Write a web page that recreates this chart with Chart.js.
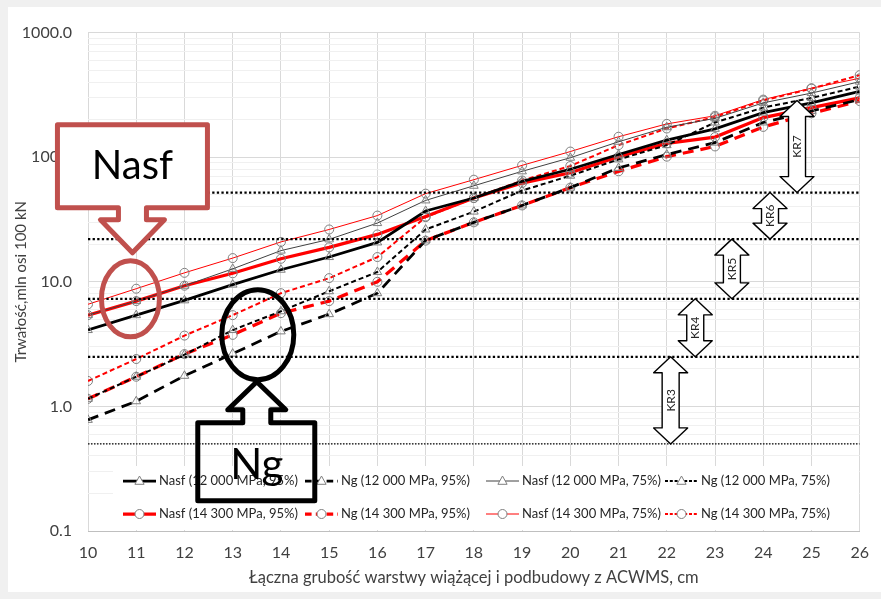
<!DOCTYPE html>
<html>
<head>
<meta charset="utf-8">
<script src="https://cdn.jsdelivr.net/npm/chart.js@4.4.1/dist/chart.umd.min.js"></script>
<style>
    html, body { margin: 0; padding: 0; background: #f0f0f0; }
    #wrap { position: absolute; left: 8px; top: 7px; width: 873px; height: 585px; background: #fff; }
</style>
</head>
<body>
<div id="wrap"><canvas id="graficoTrwalosc" width="873" height="585"></canvas></div>
<script>
// grubość warstwy wiążącej + podbudowy, cm
const grubosc = [10, 11, 12, 13, 14, 15, 16, 17, 18, 19, 20, 21, 22, 23, 24, 25, 26];

// trwałość, mln osi 100 kN
const nasf12_95 = [4.1, 5.4, 7.1, 9.5, 12.5, 15.8, 20.7, 37, 47, 64, 80, 105, 137, 169, 228, 273, 337];
const ng12_95   = [0.78, 1.1, 1.76, 2.65, 4.0, 5.5, 8.1, 21.5, 30, 41, 57, 82, 105, 131, 190, 235, 290];
const nasf12_75 = [5.4, 7.0, 9.3, 12.7, 17.8, 21.9, 29.6, 45, 59, 77, 99, 133, 174, 205, 273, 327, 404];
const ng12_75   = [1.15, 1.73, 2.6, 4.1, 5.8, 8.4, 12.0, 26.3, 36.6, 54, 71, 96, 125, 190, 250, 299, 369];
const nasf14_95 = [5.4, 7.0, 9.3, 11.7, 15.3, 18.9, 24, 33.4, 47, 62, 75, 101, 129, 145, 208, 250, 299];
const ng14_95   = [1.15, 1.73, 2.63, 3.75, 5.6, 7.0, 10.0, 21.4, 30, 41, 57, 77, 101, 122, 175, 225, 282];
const nasf14_75 = [6.6, 8.8, 11.8, 15.5, 20.9, 26.3, 34, 51, 66, 86, 111, 146, 185, 215, 290, 358, 430];
const ng14_75   = [1.6, 2.4, 3.7, 5.4, 8.1, 10.7, 15.8, 33, 47, 65, 85, 125, 170, 210, 285, 355, 456];

// granice kategorii ruchu KR
const progiKR = [0.5, 2.5, 7.3, 22, 52];
const etykietyKR = ["KR3", "KR4", "KR5", "KR6", "KR7"];
const krOd = [0.5, 2.5, 7.3, 22, 52];
const krDo = [2.5, 7.3, 22, 52, 285];
const krPozycja = [22.08, 22.59, 23.35, 24.14, 24.7];

const czcionka = "Lato, 'Open Sans', sans-serif";
const czerwony = "#ff0000";

const serie = [
    { label: "Nasf (12 000 MPa, 95%)", dane: nasf12_95, kolor: "#000000", szer: 2.75, dash: [], punkt: "triangle" },
    { label: "Ng (12 000 MPa, 95%)",   dane: ng12_95,   kolor: "#000000", szer: 2.75, dash: [11, 7], punkt: "triangle" },
    { label: "Nasf (12 000 MPa, 75%)", dane: nasf12_75, kolor: "#404040", szer: 1, dash: [], punkt: "triangle" },
    { label: "Ng (12 000 MPa, 75%)",   dane: ng12_75,   kolor: "#000000", szer: 2, dash: [5, 3], punkt: "triangle" },
    { label: "Nasf (14 300 MPa, 95%)", dane: nasf14_95, kolor: czerwony, szer: 3.25, dash: [], punkt: "circle" },
    { label: "Ng (14 300 MPa, 95%)",   dane: ng14_95,   kolor: czerwony, szer: 3.25, dash: [11, 7], punkt: "circle" },
    { label: "Nasf (14 300 MPa, 75%)", dane: nasf14_75, kolor: czerwony, szer: 1, dash: [], punkt: "circle" },
    { label: "Ng (14 300 MPa, 75%)",   dane: ng14_75,   kolor: czerwony, szer: 2, dash: [5, 3], punkt: "circle" }
];

const zbioryProgow = progiKR.map((p, i) => ({
    label: "",
    data: [{ x: grubosc[0], y: p }, { x: grubosc[grubosc.length - 1], y: p }],
    borderColor: "#000000",
    borderWidth: i === 0 ? 1.3 : 2.3,
    borderDash: i === 0 ? [1.5, 1.5] : [2.3, 2.3],
    pointRadius: 0
}));

const zbioryDanych = serie.map(s => ({
    label: s.label,
    data: grubosc.map((x, i) => ({ x: x, y: s.dane[i] })),
    borderColor: s.kolor,
    borderWidth: s.szer,
    borderDash: s.dash,
    pointStyle: s.punkt,
    pointRadius: s.punkt === "triangle" ? 5 : 4.5,
    pointBorderColor: "#7f7f7f",
    pointBackgroundColor: "rgba(255,255,255,0)",
    pointBorderWidth: 1,
    tension: 0
}));

function czyDekada(v) {
    const l = Math.log10(v);
    return Math.abs(l - Math.round(l)) < 1e-9;
}

function rysujZnacznik(ctx, styl, x, y) {
    ctx.save();
    ctx.strokeStyle = "#7f7f7f";
    ctx.lineWidth = 1;
    ctx.setLineDash([]);
    ctx.beginPath();
    if (styl === "circle") {
        ctx.arc(x, y, 4.5, 0, Math.PI * 2);
    } else {
        ctx.moveTo(x, y - 5);
        ctx.lineTo(x + 4.6, y + 3.3);
        ctx.lineTo(x - 4.6, y + 3.3);
        ctx.closePath();
    }
    ctx.fillStyle = "#ffffff";
    ctx.fill();
    ctx.stroke();
    ctx.restore();
}

// legenda wewnątrz obszaru wykresu
const legendaWewnatrz = {
    id: "legendaWewnatrz",
    afterDatasetsDraw(chart) {
        const ctx = chart.ctx;
        const a = chart.chartArea;
        ctx.save();
        ctx.fillStyle = "#ffffff";
        ctx.fillRect(a.left + 25, a.bottom - 65, a.right - a.left - 26, 64);
        const kolumny = [35, 217, 398, 577];
        const wiersze = [a.bottom - 50, a.bottom - 17];
        ctx.font = "13px " + czcionka;
        ctx.textBaseline = "middle";
        serie.forEach((s, i) => {
            const x0 = a.left + kolumny[i % 4];
            const y0 = wiersze[Math.floor(i / 4)];
            ctx.strokeStyle = s.kolor;
            ctx.lineWidth = s.szer;
            ctx.setLineDash(s.dash.length ? [s.dash[0] * 0.6, s.dash[1] * 0.6] : []);
            ctx.beginPath();
            ctx.moveTo(x0, y0);
            ctx.lineTo(x0 + 33, y0);
            ctx.stroke();
            ctx.setLineDash([]);
            rysujZnacznik(ctx, s.punkt, x0 + 16.5, y0);
            ctx.fillStyle = "#262626";
            ctx.fillText(s.label, x0 + 36, y0);
        });
        ctx.restore();
    }
};

function podwojnaStrzalka(ctx, cx, yG, yD, tekst) {
    const hw = 17, sw = 8.5, hl = 16;
    ctx.beginPath();
    ctx.moveTo(cx, yG);
    ctx.lineTo(cx + hw, yG + hl);
    ctx.lineTo(cx + sw, yG + hl);
    ctx.lineTo(cx + sw, yD - hl);
    ctx.lineTo(cx + hw, yD - hl);
    ctx.lineTo(cx, yD);
    ctx.lineTo(cx - hw, yD - hl);
    ctx.lineTo(cx - sw, yD - hl);
    ctx.lineTo(cx - sw, yG + hl);
    ctx.lineTo(cx - hw, yG + hl);
    ctx.closePath();
    ctx.fillStyle = "#ffffff";
    ctx.fill();
    ctx.strokeStyle = "#000000";
    ctx.lineWidth = 1.4;
    ctx.stroke();
    ctx.save();
    ctx.translate(cx, (yG + yD) / 2);
    ctx.rotate(-Math.PI / 2);
    ctx.fillStyle = "#262626";
    ctx.font = "12px " + czcionka;
    ctx.textAlign = "center";
    ctx.textBaseline = "middle";
    ctx.fillText(tekst, 0, 0);
    ctx.restore();
}

// objaśnienia: Nasf, Ng i strzałki KR
const objasnienia = {
    id: "objasnienia",
    afterDraw(chart) {
        const ctx = chart.ctx;
        const sx = chart.scales.x, sy = chart.scales.y;
        ctx.save();
        ctx.setLineDash([]);
        ctx.lineJoin = "round";

        // elipsa Nasf
        const e1x = sx.getPixelForValue(10.88), e1y = sy.getPixelForValue(7.3);
        ctx.strokeStyle = "#c0504d";
        ctx.lineWidth = 5;
        ctx.beginPath();
        ctx.ellipse(e1x, e1y, 29, 38, 0, 0, Math.PI * 2);
        ctx.stroke();

        // dymek Nasf (strzałka w dół)
        const tx = e1x + 2, ty = e1y - 46;
        ctx.beginPath();
        ctx.moveTo(tx - 75, ty - 128);
        ctx.lineTo(tx + 75, ty - 128);
        ctx.lineTo(tx + 75, ty - 45);
        ctx.lineTo(tx + 14, ty - 45);
        ctx.lineTo(tx + 14, ty - 33);
        ctx.lineTo(tx + 32, ty - 33);
        ctx.lineTo(tx, ty);
        ctx.lineTo(tx - 32, ty - 33);
        ctx.lineTo(tx - 14, ty - 33);
        ctx.lineTo(tx - 14, ty - 45);
        ctx.lineTo(tx - 75, ty - 45);
        ctx.closePath();
        ctx.fillStyle = "#ffffff";
        ctx.fill();
        ctx.stroke();
        ctx.fillStyle = "#000000";
        ctx.font = "40px " + czcionka;
        ctx.textAlign = "center";
        ctx.textBaseline = "middle";
        ctx.fillText("Nasf", tx, ty - 87);

        // elipsa Ng
        const e2x = sx.getPixelForValue(13.52), e2y = sy.getPixelForValue(3.76);
        ctx.strokeStyle = "#000000";
        ctx.lineWidth = 5;
        ctx.beginPath();
        ctx.ellipse(e2x, e2y, 36, 45, 0, 0, Math.PI * 2);
        ctx.stroke();

        // dymek Ng (strzałka w górę)
        const ux = e2x - 1, uy = e2y + 47;
        ctx.beginPath();
        ctx.moveTo(ux, uy);
        ctx.lineTo(ux + 29, uy + 28);
        ctx.lineTo(ux + 14, uy + 28);
        ctx.lineTo(ux + 14, uy + 41);
        ctx.lineTo(ux + 58, uy + 41);
        ctx.lineTo(ux + 58, uy + 119);
        ctx.lineTo(ux - 59, uy + 119);
        ctx.lineTo(ux - 59, uy + 41);
        ctx.lineTo(ux - 14, uy + 41);
        ctx.lineTo(ux - 14, uy + 28);
        ctx.lineTo(ux - 29, uy + 28);
        ctx.closePath();
        ctx.stroke();
        ctx.fillStyle = "#000000";
        ctx.font = "42px " + czcionka;
        ctx.fillText("Ng", ux, uy + 84);

        // strzałki KR
        etykietyKR.forEach((t, i) => {
            podwojnaStrzalka(ctx, sx.getPixelForValue(krPozycja[i]),
                sy.getPixelForValue(krDo[i]), sy.getPixelForValue(krOd[i]), t);
        });
        ctx.restore();
    }
};

const ctx = document.getElementById("graficoTrwalosc").getContext("2d");

new Chart(ctx, {
    type: "line",
    data: {
        datasets: zbioryProgow.concat(zbioryDanych)
    },
    options: {
        responsive: false,
        animation: false,
        devicePixelRatio: 1,
        layout: { padding: { left: 0, right: 18, top: 13, bottom: 0 } },
        plugins: {
            legend: { display: false },
            tooltip: { enabled: false }
        },
        scales: {
            x: {
                type: "linear",
                min: 10,
                max: 26,
                ticks: {
                    stepSize: 1,
                    padding: 12,
                    color: "#404040",
                    font: { family: czcionka, size: 16 }
                },
                grid: { color: "#d9d9d9", drawTicks: false },
                border: { color: "#bfbfbf" },
                title: {
                    display: true,
                    text: "Łączna grubość warstwy wiążącej i podbudowy z ACWMS, cm",
                    color: "#404040",
                    font: { family: czcionka, size: 16.5 },
                    padding: { top: 0, bottom: 4 }
                },
                afterFit: s => { s.height = 61; }
            },
            y: {
                type: "logarithmic",
                min: 0.1,
                max: 1000,
                afterBuildTicks: s => {
                    const t = [];
                    for (let e = -1; e < 3; e++) {
                        for (let m = 1; m < 10; m++) t.push({ value: m * Math.pow(10, e) });
                    }
                    t.push({ value: 1000 });
                    s.ticks = t;
                },
                ticks: {
                    autoSkip: false,
                    padding: 16,
                    color: "#404040",
                    font: { family: czcionka, size: 16 },
                    callback: v => czyDekada(v) ? v.toFixed(1) : ""
                },
                grid: {
                    drawTicks: false,
                    color: c => (c.tick && czyDekada(c.tick.value)) ? "#d9d9d9" : "#f0f0f0"
                },
                border: { display: false },
                title: {
                    display: true,
                    text: "Trwałość,mln osi 100 kN",
                    color: "#404040",
                    font: { family: czcionka, size: 15 },
                    padding: 4
                },
                afterFit: s => { s.width = 80; }
            }
        }
    },
    plugins: [legendaWewnatrz, objasnienia]
});
</script>
</body>
</html>
